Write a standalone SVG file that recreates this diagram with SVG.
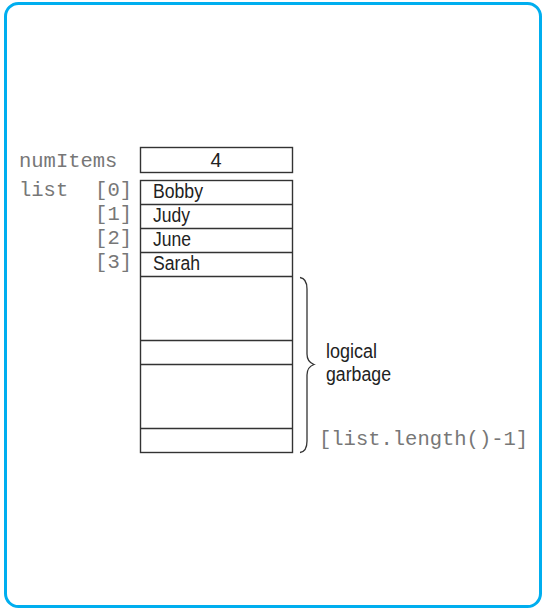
<svg xmlns="http://www.w3.org/2000/svg" width="543" height="609" viewBox="0 0 543 609">
  <style>
    .frame { fill: #ffffff; stroke: #00aeef; stroke-width: 3; }
    .cell { fill: #ffffff; stroke: #333333; stroke-width: 1.4; }
    .rule { stroke: #333333; stroke-width: 1.4; }
    .mono { font-family: "Liberation Mono", "Courier New", monospace; font-size: 20.5px; fill: #777777; }
    .val { font-family: "Liberation Sans", Arial, sans-serif; font-size: 20px; fill: #222222; }
    .brace { fill: none; stroke: #333333; stroke-width: 1.3; }
  </style>
  <rect class="frame" x="5.5" y="3.5" width="535" height="603" rx="13" ry="13"/>

  <g id="numItems">
    <text class="mono" x="19" y="167">numItems</text>
    <rect class="cell" x="140.5" y="147.5" width="152" height="25"/>
    <text class="val" x="216" y="167" text-anchor="middle">4</text>
  </g>

  <g id="list">
    <text class="mono" x="19" y="196">list</text>
    <rect class="cell" x="140.5" y="180.5" width="152" height="272"/>
    <line class="rule" x1="140.5" y1="204.5" x2="292.5" y2="204.5"/>
    <line class="rule" x1="140.5" y1="228.5" x2="292.5" y2="228.5"/>
    <line class="rule" x1="140.5" y1="252.5" x2="292.5" y2="252.5"/>
    <line class="rule" x1="140.5" y1="276.5" x2="292.5" y2="276.5"/>
    <line class="rule" x1="140.5" y1="340.5" x2="292.5" y2="340.5"/>
    <line class="rule" x1="140.5" y1="364.5" x2="292.5" y2="364.5"/>
    <line class="rule" x1="140.5" y1="428.5" x2="292.5" y2="428.5"/>
  </g>

  <g id="indices">
    <text class="mono" x="132" y="196" text-anchor="end">[0]</text>
    <text class="mono" x="132" y="220" text-anchor="end">[1]</text>
    <text class="mono" x="132" y="244" text-anchor="end">[2]</text>
    <text class="mono" x="132" y="268" text-anchor="end">[3]</text>
  </g>

  <g id="items">
    <text class="val" x="153" y="198" textLength="50" lengthAdjust="spacingAndGlyphs">Bobby</text>
    <text class="val" x="153" y="222" textLength="37" lengthAdjust="spacingAndGlyphs">Judy</text>
    <text class="val" x="153" y="246" textLength="38" lengthAdjust="spacingAndGlyphs">June</text>
    <text class="val" x="153" y="270" textLength="47" lengthAdjust="spacingAndGlyphs">Sarah</text>
  </g>

  <g id="garbage">
    <path class="brace" d="M300,277.5 Q307,278.5 307,289 L307,354 Q307,362 314,364.5 Q307,367 307,375 L307,441 Q307,451.5 300,452.5"/>
    <text class="val" x="326" y="358" textLength="51" lengthAdjust="spacingAndGlyphs">logical</text>
    <text class="val" x="326" y="381" textLength="65" lengthAdjust="spacingAndGlyphs">garbage</text>
  </g>

  <g id="lastIndex">
    <text class="mono" x="319" y="445">[list.length()-1]</text>
  </g>
</svg>
